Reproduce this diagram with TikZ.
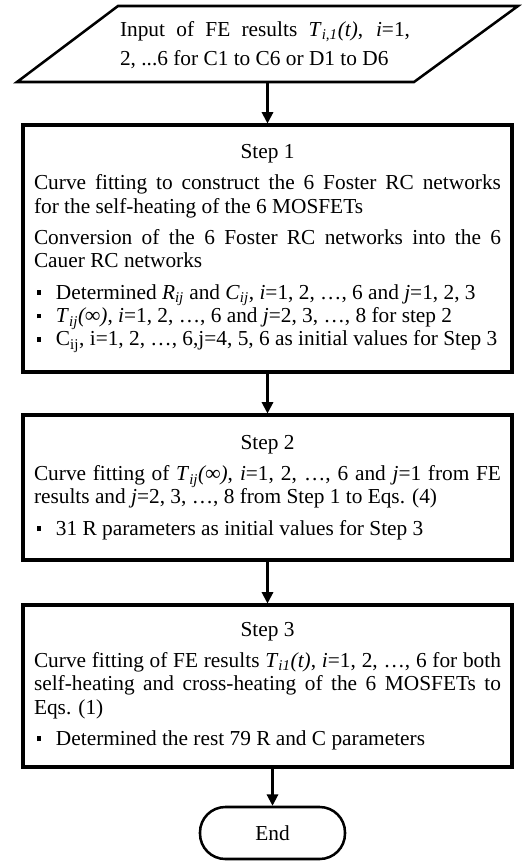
\documentclass[tikz,border=0pt]{standalone}
\usepackage{fontspec}
\setmainfont{Liberation Serif}
\usetikzlibrary{arrows.meta}
\newcommand{\sqb}{\raisebox{0.2em}{\rule{3.6pt}{3.6pt}}}
\newcommand{\itm}[1]{\makebox[16.5pt][l]{\hspace{2pt}\sqb}#1\par}
\newcommand{\gapv}{\par\vspace{6pt}}
\begin{document}
\begin{tikzpicture}[x=0.75pt,y=-0.75pt,
  font=\fontsize{16pt}{17.5pt}\selectfont,
  stepbox/.style={draw, line width=2.3pt, rectangle, minimum width=366.75pt,
    text width=350.25pt, inner xsep=8.25pt, inner ysep=0pt, align=justify},
  conn/.style={line width=1.6pt, -{Triangle[length=8.5pt,width=8.5pt]}},
  termbox/.style={draw, line width=1.9pt, rounded corners=19pt,
    minimum width=108.75pt, minimum height=39pt}]
\useasboundingbox (0,0) rectangle (523,861);
\fill[white] (0,0) rectangle (523,861);
% input parallelogram
\coordinate (pa) at (17,82);
\coordinate (pb) at (414,82);
\coordinate (pc) at (518,6);
\coordinate (pd) at (118,6);
\draw[line width=1.9pt, line join=miter] (pa) -- (pb) -- (pc) -- (pd) -- cycle;
\node[text width=217.5pt, align=justify, inner sep=0pt, minimum height=57pt,
  font=\fontsize{16pt}{22pt}\selectfont] (input) at (265,45)
  {Input of FE results \textit{T}\textsubscript{\textit{i,1}}\textit{(t)}, \textit{i}=1,\linebreak 2, ...6 for C1 to C6 or D1 to D6};
% step 1
\node[stepbox, minimum height=185.25pt] (s1) at (267.5,248.5) {%
  \centerline{Step 1}\gapv
  Curve fitting to construct the 6 Foster RC networks\linebreak for the self-heating of the 6 MOSFETs\gapv
  Conversion of the 6 Foster RC networks into the 6\linebreak Cauer RC networks\gapv
  \itm{Determined \textit{R}\textsubscript{\textit{ij}} and \textit{C}\textsubscript{\textit{ij}}, \textit{i}=1, 2, …, 6 and \textit{j}=1, 2, 3}%
  \itm{\textit{T}\textsubscript{\textit{ij}}\textit{(∞)}, \textit{i}=1, 2, …, 6 and \textit{j}=2, 3, …, 8 for step 2}%
  \itm{C\textsubscript{ij}, i=1, 2, …, 6,j=4, 5, 6 as initial values for Step 3}};
% step 2
\node[stepbox, minimum height=108.75pt] (s2) at (267.5,487.5) {%
  \centerline{Step 2}\gapv
  Curve fitting of \textit{T}\textsubscript{\textit{ij}}\textit{(∞)}, \textit{i}=1, 2, …, 6 and \textit{j}=1 from FE\linebreak results and \textit{j}=2, 3, …, 8 from Step 1 to Eqs. (4)\gapv
  \itm{31 R parameters as initial values for Step 3}};
% step 3
\node[stepbox, minimum height=121.5pt] (s3) at (267.5,686) {%
  \centerline{Step 3}\gapv
  Curve fitting of FE results \textit{T}\textsubscript{\textit{i1}}\textit{(t)}, \textit{i}=1, 2, …, 6 for both\linebreak self-heating and cross-heating of the 6 MOSFETs to\linebreak Eqs. (1)\gapv
  \itm{Determined the rest 79 R and C parameters}};
% end
\node[termbox] (end) at (272.5,833) {End};
% connectors
\draw[conn] (input.south -| s1.north) -- (s1.north);
\draw[conn] (s1.south) -- (s2.north);
\draw[conn] (s2.south) -- (s3.north);
\draw[conn] (s3.south -| end.north) -- (end.north);
\end{tikzpicture}
\end{document}
